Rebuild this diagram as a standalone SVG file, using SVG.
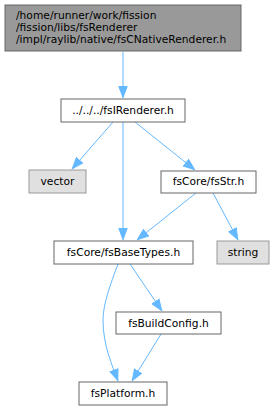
<svg xmlns="http://www.w3.org/2000/svg" width="275" height="411" viewBox="0 0 275 411">
<style>
text{font-family:"DejaVu Sans",sans-serif;font-size:10.7px;fill:#000}
.n rect{fill:#fff;stroke:#666}
.x rect{fill:#e0e0e0;stroke:#999}
.t rect{fill:#999;stroke:#666}
.e path{fill:none;stroke:#63b8ff;stroke-width:1}
.c{text-anchor:middle}
</style>
<defs>
<marker id="a" viewBox="0 0 12 10" refX="12" refY="5" markerWidth="12" markerHeight="10" markerUnits="userSpaceOnUse" orient="auto">
<path d="M0.5,0.8L11.5,5L0.5,9.2z" fill="#63b8ff" stroke="#63b8ff"/>
</marker>
</defs>
<g class="e">
<path d="M123,52V98" marker-end="url(#a)"/>
<path d="M113,122L72,169" marker-end="url(#a)"/>
<path d="M123,122V240" marker-end="url(#a)"/>
<path d="M135,122L195,170" marker-end="url(#a)"/>
<path d="M196,193L137,240" marker-end="url(#a)"/>
<path d="M213,193L238,240" marker-end="url(#a)"/>
<path d="M118,264C110,285 103,305 103,320C103,345 112,365 118,381" marker-end="url(#a)"/>
<path d="M130,264L162,311" marker-end="url(#a)"/>
<path d="M161,334L132,381" marker-end="url(#a)"/>
</g>
<g id="n0" class="t"><rect x="5" y="5" width="236" height="46"/>
<text x="16" y="19">/home/runner/work/fission</text>
<text x="16" y="31">/fission/libs/fsRenderer</text>
<text x="16" y="43">/impl/raylib/native/fsCNativeRenderer.h</text></g>
<g id="n1" class="n"><rect x="61" y="99" width="124" height="23"/><text class="c" x="123" y="114">../../../fsIRenderer.h</text></g>
<g id="n2" class="x"><rect x="29" y="170" width="57" height="23"/><text class="c" x="57.5" y="185">vector</text></g>
<g id="n3" class="n"><rect x="161" y="171" width="95" height="22"/><text class="c" x="208.5" y="185">fsCore/fsStr.h</text></g>
<g id="n4" class="n"><rect x="54" y="241" width="139" height="23"/><text class="c" x="123.5" y="256">fsCore/fsBaseTypes.h</text></g>
<g id="n5" class="x"><rect x="217" y="241" width="52" height="23"/><text class="c" x="243" y="256">string</text></g>
<g id="n6" class="n"><rect x="116" y="312" width="105" height="22"/><text class="c" x="168.5" y="327">fsBuildConfig.h</text></g>
<g id="n7" class="n"><rect x="79" y="382" width="88" height="23"/><text class="c" x="123" y="397">fsPlatform.h</text></g>
</svg>
